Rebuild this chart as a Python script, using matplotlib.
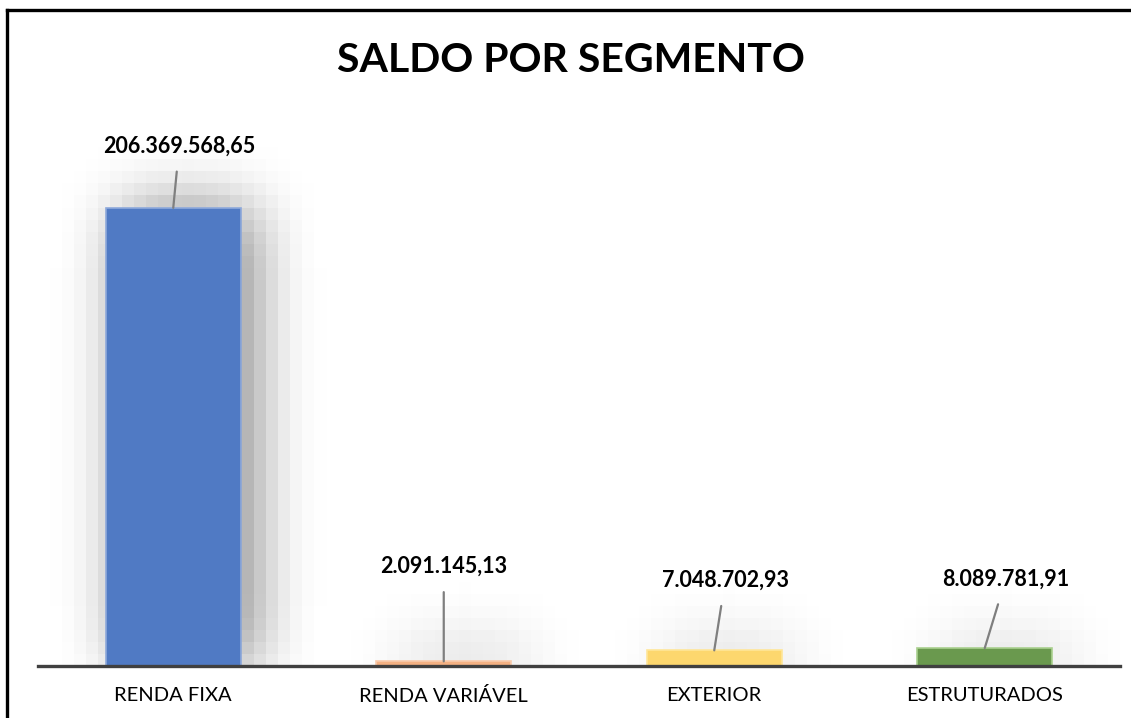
import numpy as np
import matplotlib
matplotlib.use('Agg')
import matplotlib.pyplot as plt
from matplotlib.lines import Line2D

categories = ["RENDA FIXA", "RENDA VARIÁVEL", "EXTERIOR", "ESTRUTURADOS"]
values = [206369568.65, 2091145.13, 7048702.93, 8089781.91]
value_labels = ["206.369.568,65", "2.091.145,13", "7.048.702,93", "8.089.781,91"]
colors = ["#507AC4", "#F4B183", "#FDD76E", "#6A994E"]
edge_colors = ["#8EA9DB", "#F8CBAD", "#FFE699", "#A9D08E"]
# label offsets from bar top (pixels)
label_offsets = [(6, 62), (0, 95), (11, 70), (21, 69)]

plt.rcParams['font.family'] = ['Lato', 'DejaVu Sans']

W, H = 1131, 718
fig = plt.figure(figsize=(W / 100, H / 100), dpi=100)
ax = fig.add_axes([38 / W, (H - 666) / H, (1120 - 38) / W, (666 - 111) / H])
ax.set_xlim(-0.5, 3.5)
ax.set_ylim(0, 250e6)
bar_w = 0.5

# blocky soft shadow behind the bars
cell = 12
nx = int(round((1120 - 38) / cell))
ny = int(round((666 - 111) / cell))
xs = -0.5 + (np.arange(nx) + 0.5) * 4.0 / nx
ys = (np.arange(ny) + 0.5) * 250e6 / ny
mask = np.zeros((ny, nx))
for i, v in enumerate(values):
    inside_x = (xs > i - bar_w / 2 + 0.02) & (xs < i + bar_w / 2 + 0.02)
    inside_y = ys < max(v, 250e6 / ny * 0.6)
    mask[np.ix_(inside_y, inside_x)] = 1.0
mask = np.pad(mask, ((8, 8), (8, 8)))
mask = np.roll(mask, 1, axis=1)
k = np.ones(5) / 5
for _ in range(3):
    mask = np.apply_along_axis(lambda r: np.convolve(r, k, mode='same'), 1, mask)
    mask = np.apply_along_axis(lambda c: np.convolve(c, k, mode='same'), 0, mask)
mask = mask[8:-8, 8:-8]
shadow = np.zeros((ny, nx, 4))
shadow[..., 3] = 0.5 * mask
ax.imshow(shadow, extent=(-0.5, 3.5, 0, 250e6), origin='lower', aspect='auto',
          interpolation='nearest', zorder=1)

ax.bar(range(len(values)), values, width=bar_w, color=colors, edgecolor=edge_colors,
       linewidth=1.2, zorder=2)

for i, v in enumerate(values):
    dx, dy = label_offsets[i]
    ax.annotate(value_labels[i], xy=(i, v), xycoords='data',
                xytext=(dx * 0.72, dy * 0.72), textcoords='offset points',
                ha='center', va='center', fontsize=15.5, fontweight='bold', color='black',
                arrowprops=dict(arrowstyle='-', color='#7F7F7F', lw=1.6,
                                shrinkA=9, shrinkB=0), zorder=4)

for s in ['top', 'right', 'left']:
    ax.spines[s].set_visible(False)
ax.spines['bottom'].set_color('#404040')
ax.spines['bottom'].set_linewidth(2.4)
ax.spines['bottom'].set_zorder(5)
ax.set_yticks([])
ax.set_xticks(range(len(categories)))
ax.set_xticklabels(categories, fontsize=14.5)
ax.tick_params(axis='x', length=0, pad=15)
ax.patch.set_alpha(0)

fig.text(571 / W, 1 - 60 / H, "SALDO POR SEGMENTO", ha='center', va='center',
         fontsize=29.5, fontweight='bold', color='black')

# chart frame (left and top edges visible)
fig.add_artist(Line2D([7 / W, 1.0], [1 - 10 / H, 1 - 10 / H], color='black', lw=2.4))
fig.add_artist(Line2D([7 / W, 7 / W], [0, 1 - 10 / H], color='black', lw=2.4))

fig.savefig('out.png', dpi=100)
